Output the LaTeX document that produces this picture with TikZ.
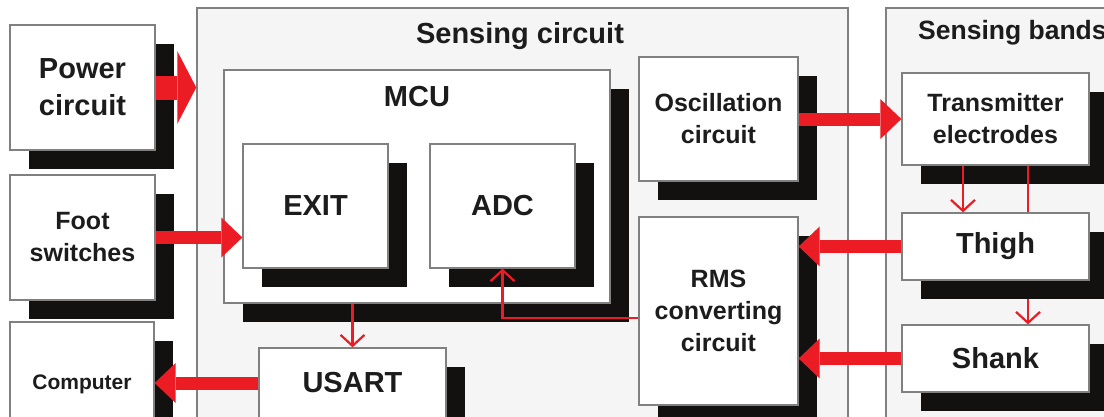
\documentclass[tikz,border=0pt]{standalone}
\usepackage{fontspec}
\setmainfont{Liberation Sans}
\usetikzlibrary{arrows.meta,shadows}
\definecolor{arrred}{RGB}{236,28,36}
\definecolor{boxgray}{RGB}{128,128,128}
\definecolor{panel}{RGB}{245,245,245}
\definecolor{txt}{RGB}{28,28,28}
\definecolor{shade}{RGB}{18,17,15}

\begin{document}
\begin{tikzpicture}[x=1pt,y=-1pt,line join=miter,
  blk/.style={draw=boxgray,line width=1.3pt,fill=white,text=txt,align=center,inner sep=0pt,
    font=\bfseries\fontsize{25}{32}\selectfont,
    drop shadow={shadow xshift=19pt,shadow yshift=-19pt,fill=shade,opacity=1}},
  big/.style={font=\bfseries\fontsize{29}{37}\selectfont},
  panelbox/.style={draw=boxgray,line width=1.5pt,fill=panel,inner sep=0pt},
  fat/.style={draw=arrred,line width=13pt,-{Triangle[length=21pt,width=40pt,line width=0pt]}},
  thin/.style={draw=arrred,line width=2.2pt,-{Straight Barb[length=11pt,width=24pt]}},
  title/.style={text=txt,inner sep=0pt,font=\bfseries\fontsize{29}{35}\selectfont}]
\useasboundingbox (0,0) rectangle (1104,416);
% frames
\node[panelbox,minimum width=651pt,minimum height=440pt] (sc) at (522.5,228) {};
\node[panelbox,minimum width=244pt,minimum height=440pt] (sb) at (1008,228) {};
\node[title,anchor=base] (sctitle) at (520,43) {Sensing circuit};
\node[title,anchor=base west,font=\bfseries\fontsize{26.5}{30}\selectfont] (sbtitle) at (918,39) {Sensing bands};
% left column
\node[blk,big,minimum width=145pt,minimum height=125pt] (pow) at (82.5,87.5) {Power\\circuit};
\node[blk,minimum width=145pt,minimum height=125pt] (foot) at (82.5,237.5) {Foot\\switches};
\node[blk,font=\bfseries\fontsize{21}{26}\selectfont,minimum width=144pt,minimum height=125pt] (comp) at (82,384.5) {Computer};
% sensing circuit
\node[blk,minimum width=386pt,minimum height=233pt] (mcu) at (417,186.5) {};
\node[title,anchor=base] (mcutitle) at (417,106) {MCU};
\node[blk,big,minimum width=145pt,minimum height=124pt] (exit) at (315.5,206) {EXIT};
\node[blk,big,minimum width=145pt,minimum height=124pt] (adc) at (502.5,206) {ADC};
\node[blk,big,minimum width=187pt,minimum height=70pt] (usart) at (352.5,383) {USART};
\node[blk,minimum width=159pt,minimum height=124pt] (osc) at (718.5,119) {Oscillation\\circuit};
\node[blk,minimum width=159pt,minimum height=188pt] (rms) at (718.5,311) {RMS\\converting\\circuit};
% sensing bands
\node[blk,minimum width=187pt,minimum height=92pt] (tr) at (995.5,119) {Transmitter\\electrodes};
\node[blk,big,minimum width=187pt,minimum height=67pt] (shank) at (995.5,358.5) {Shank};
\draw[thin] ([xshift=32.5pt]tr.south) -- ([xshift=32.5pt]tr.south |- shank.north);
\node[blk,big,minimum width=187pt,minimum height=67pt] (thigh) at (995.5,246.5) {Thigh};
% connectors
\draw[fat,line width=24pt,-{Triangle[length=19pt,width=73pt,line width=0pt]}] (pow.east) -- (pow.east -| sc.west);
\draw[fat] (foot.east) -- (foot.east -| exit.west);
\draw[fat] (usart.west) -- (usart.west -| comp.east);
\draw[fat] (osc.east) -- (osc.east -| tr.west);
\draw[fat] (thigh.west) -- (thigh.west -| rms.east);
\draw[fat] (shank.west) -- (shank.west -| rms.east);
\draw[thin] (usart.north |- mcu.south) -- (usart.north);
\draw[thin] ([yshift=-7pt]rms.west) -| (adc.south);
\draw[thin] ([xshift=-32.5pt]tr.south) -- ([xshift=-32.5pt]tr.south |- thigh.north);
\end{tikzpicture}
\end{document}
